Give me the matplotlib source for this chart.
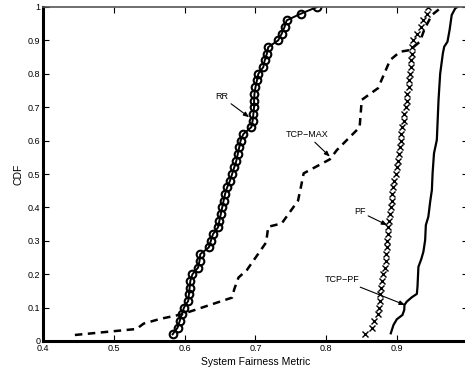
import numpy as np
import matplotlib
matplotlib.use("Agg")
import matplotlib.pyplot as plt

plt.rcParams['font.family'] = ['Liberation Sans', 'DejaVu Sans']

# CDF levels for the 50-sample curves
cdf_levels = [0.02 * k for k in range(1, 51)]

rr_x = [0.583, 0.590, 0.593, 0.596, 0.599, 0.605, 0.606, 0.607, 0.608, 0.611,
        0.619, 0.621, 0.622, 0.634, 0.637, 0.640, 0.647, 0.649, 0.651, 0.653,
        0.655, 0.657, 0.660, 0.664, 0.667, 0.670, 0.673, 0.675, 0.677, 0.679,
        0.683, 0.694, 0.696, 0.697, 0.698, 0.698, 0.6985, 0.700, 0.702, 0.704,
        0.711, 0.713, 0.716, 0.718, 0.732, 0.737, 0.741, 0.744, 0.764, 0.787]

pf_x = [0.855, 0.865, 0.8675, 0.8725, 0.8745, 0.876, 0.876, 0.877, 0.878, 0.8805,
        0.883, 0.884, 0.884, 0.8855, 0.886, 0.8865, 0.8877, 0.888, 0.890, 0.891,
        0.892, 0.893, 0.894, 0.896, 0.8985, 0.8995, 0.9005, 0.902, 0.9035, 0.905,
        0.906, 0.9075, 0.909, 0.910, 0.912, 0.9135, 0.9145, 0.916, 0.917, 0.918,
        0.919, 0.920, 0.9205, 0.921, 0.922, 0.9278, 0.9335, 0.936, 0.9418, 0.943]

tcpmax_x = [0.445, 0.532, 0.542, 0.565, 0.596, 0.667, 0.670, 0.676, 0.688, 0.715,
            0.718, 0.737, 0.760, 0.764, 0.768, 0.805, 0.815, 0.847, 0.850, 0.873,
            0.890, 0.904, 0.918, 0.932, 0.939, 0.949, 0.963]
tcpmax_y = [0.018, 0.036, 0.052, 0.066, 0.080, 0.130, 0.155, 0.190, 0.213, 0.295,
            0.342, 0.352, 0.420, 0.460, 0.502, 0.544, 0.572, 0.640, 0.722, 0.757,
            0.841, 0.866, 0.871, 0.896, 0.936, 0.976, 1.0]

tcppf_x = [0.891, 0.8948, 0.8995, 0.9075, 0.910, 0.9103, 0.9136, 0.9207, 0.9278, 0.9287,
           0.930, 0.934, 0.937, 0.9395, 0.9405, 0.944, 0.9466, 0.949, 0.950, 0.952,
           0.956, 0.9584, 0.9607, 0.9645, 0.9664, 0.971, 0.974, 0.977, 0.982, 0.985]
tcppf_y = [0.023, 0.048, 0.065, 0.078, 0.093, 0.108, 0.118, 0.131, 0.141, 0.163,
           0.222, 0.245, 0.267, 0.302, 0.347, 0.372, 0.417, 0.452, 0.502, 0.562,
           0.602, 0.722, 0.800, 0.861, 0.881, 0.896, 0.931, 0.976, 0.996, 1.0]

x_ticks = [0.4, 0.5, 0.6, 0.7, 0.8, 0.9, 1.0]
x_tick_labels = ['0.4', '0.5', '0.6', '0.7', '0.8', '0.9', '']
y_ticks = [0, 0.1, 0.2, 0.3, 0.4, 0.5, 0.6, 0.7, 0.8, 0.9, 1.0]
y_tick_labels = ['0', '0.1', '0.2', '0.3', '0.4', '0.5', '0.6', '0.7', '0.8', '0.9', '1']

fig = plt.figure(figsize=(4.65, 3.74), dpi=100)
ax = fig.add_axes([43 / 465, 33 / 374, 425 / 465, 334 / 374])

ax.plot(tcpmax_x, tcpmax_y, color='black', lw=1.8, ls=(0, (3.0, 2.2)))
ax.plot(tcppf_x, tcppf_y, color='black', lw=1.6)
ax.plot(pf_x, cdf_levels, ls='none', marker='x', color='black', ms=4, mew=1.0)
ax.plot(rr_x, cdf_levels, color='black', lw=1.4, marker='o', ms=5.5,
        mfc='none', mec='black', mew=1.5)

ax.set_xlim(0.4, 1.0)
ax.set_ylim(0, 1.0)
ax.set_xticks(x_ticks)
ax.set_xticklabels(x_tick_labels)
ax.set_yticks(y_ticks)
ax.set_yticklabels(y_tick_labels)
ax.tick_params(direction='in', length=4, width=0.8, labelsize=6.5, pad=2,
               top=True, right=True)

for side in ['left', 'bottom']:
    ax.spines[side].set_linewidth(2.2)
    ax.spines[side].set_color('black')
for side in ['top', 'right']:
    ax.spines[side].set_linewidth(1.2)
    ax.spines[side].set_color('#555555')

ax.set_xlabel('System Fairness Metric', fontsize=7.5, labelpad=3)
ax.set_ylabel('CDF', fontsize=7.5, labelpad=3)

arrow = dict(arrowstyle='-|>,head_length=0.5,head_width=0.2', color='black',
             lw=0.8, shrinkA=0, shrinkB=0)
ax.annotate('RR', xy=(0.691, 0.670), xytext=(0.6524, 0.731), fontsize=6.5,
            ha='center', va='center', arrowprops=arrow)
ax.annotate('TCP\u2212MAX', xy=(0.805, 0.552), xytext=(0.773, 0.617), fontsize=6.5,
            ha='center', va='center', arrowprops=arrow)
ax.annotate('PF', xy=(0.886, 0.347), xytext=(0.847, 0.387), fontsize=6.5,
            ha='center', va='center', arrowprops=arrow)
ax.annotate('TCP\u2212PF', xy=(0.911, 0.108), xytext=(0.822, 0.183), fontsize=6.5,
            ha='center', va='center', arrowprops=arrow)

fig.savefig('out.png', dpi=100)
